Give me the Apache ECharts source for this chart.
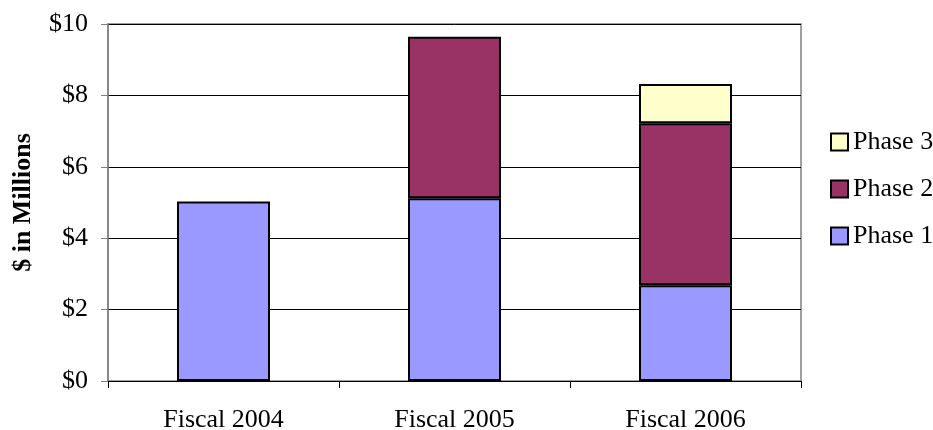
<!DOCTYPE html>
<html>
<head>
    <meta charset="utf-8">
    <title>Funding by Phase</title>
    <script src="https://cdn.jsdelivr.net/npm/echarts@6/dist/echarts.min.js"></script>
    <style>
        html, body { margin: 0; padding: 0; background: #fff; }
        #chart-container { width: 933px; height: 430px; }
    </style>
</head>
<body>
<div id="chart-container"></div>
<script>
    // data ($ millions)
    var categories = ['Fiscal 2004', 'Fiscal 2005', 'Fiscal 2006'];
    var phase1 = [5.03, 5.12, 2.68];
    var phase2 = [0, 4.52, 4.54];
    var phase3 = [0, 0, 1.10];
    var yTicks = [0, 2, 4, 6, 8, 10];

    var font = '"Liberation Serif", "Times New Roman", serif';

    var myChart = echarts.init(document.getElementById('chart-container'));

    function makeSeries(name, values, color) {
        return {
            name: name,
            type: 'bar',
            stack: 'total',
            barWidth: 93,
            data: values.map(function (v) { return v === 0 ? null : v; }),
            itemStyle: { color: color, borderColor: '#000', borderWidth: 2 }
        };
    }

    var option = {
        animation: false,
        textStyle: { fontFamily: font },
        grid: {
            left: 108, right: 132, top: 24, bottom: 49,
            outerBoundsMode: 'none',
            containLabel: false,
            show: true, borderColor: '#808080', borderWidth: 1.5
        },
        legend: {
            orient: 'vertical',
            left: 825,
            top: 124,
            itemWidth: 17,
            itemHeight: 17,
            itemGap: 21,
            icon: 'rect',
            data: ['Phase 3', 'Phase 2', 'Phase 1'],
            itemStyle: { borderColor: '#000', borderWidth: 2 },
            textStyle: { fontFamily: font, fontSize: 26, color: '#000', lineHeight: 26 }
        },
        xAxis: {
            type: 'category',
            data: categories,
            axisLine: { lineStyle: { color: '#000', width: 1 } },
            axisTick: { show: true, length: 7, lineStyle: { color: '#000' } },
            axisLabel: { fontFamily: font, fontSize: 26, color: '#000', margin: 26 }
        },
        yAxis: {
            type: 'value',
            min: yTicks[0],
            max: yTicks[yTicks.length - 1],
            interval: 2,
            name: '$ in Millions',
            nameLocation: 'middle',
            nameGap: 72,
            nameTextStyle: { fontFamily: font, fontSize: 26, fontWeight: 'bold', color: '#000' },
            axisLine: { show: true, lineStyle: { color: '#808080', width: 1.5 } },
            axisTick: { show: true, length: 7, lineStyle: { color: '#808080' } },
            axisLabel: {
                fontFamily: font, fontSize: 26, color: '#000', margin: 20,
                formatter: function (v) { return '$' + v; }
            },
            splitLine: { show: true, lineStyle: { color: '#000', width: 1 } }
        },
        series: [
            makeSeries('Phase 1', phase1, '#9999FF'),
            makeSeries('Phase 2', phase2, '#993366'),
            makeSeries('Phase 3', phase3, '#FFFFCC')
        ]
    };

    myChart.setOption(option);
</script>
</body>
</html>
